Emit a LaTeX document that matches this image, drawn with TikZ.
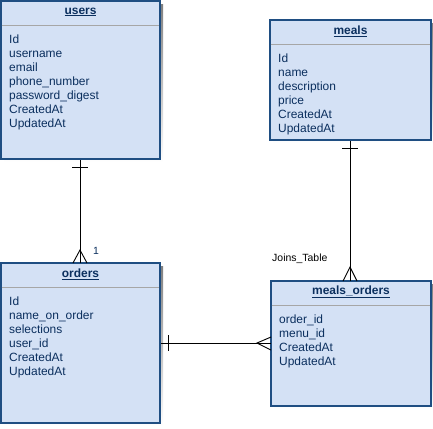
\documentclass[tikz,border=0pt]{standalone}
\usepackage{fontspec}
\setmainfont{Liberation Sans}
\definecolor{entfill}{HTML}{D4E1F5}
\definecolor{entline}{HTML}{1F4E82}
\definecolor{enttext}{HTML}{0B2F5E}
\definecolor{shade}{HTML}{BFBFBF}
\begin{document}
\begin{tikzpicture}[x=1bp,y=-1bp,
  entity/.style={draw=entline,fill=entfill,line width=1.2bp},
  sepline/.style={draw=gray!70,line width=0.8bp},
  title/.style={font=\fontsize{12}{14}\selectfont\bfseries,text=enttext,inner sep=0pt},
  fields/.style={font=\fontsize{12}{14}\selectfont,text=enttext,align=left,anchor=north west,inner sep=0pt},
  rel/.style={draw=black,line width=0.9bp},
  lbl/.style={font=\fontsize{10.5}{12}\selectfont,inner sep=0pt}]
\useasboundingbox (0,0) rectangle (433,428);

% entity tables: shadow, body, header separator, title and fields
\newcommand{\enttable}[7]{%
  \fill[shade] (#2+3,#3+3) rectangle (#4+3,#5+3);
  \path[entity] (#2,#3) rectangle (#4,#5);
  \draw[sepline] (#2+0.6,#3+24) -- (#4-0.6,#3+24);
  \coordinate (#1-nw) at (#2,#3);
  \coordinate (#1-se) at (#4,#5);
  \node[title] (#1-title) at ({(#2+#4)/2},#3+11) {\underline{#6}};
  \node[fields] (#1-fields) at (#2+8,#3+34) {#7};
}

\enttable{users}{1}{1}{160}{159}{users}{Id\\username\\email\\phone\_number\\password\_digest\\CreatedAt\\UpdatedAt}
\enttable{meals}{270}{20}{431}{140}{meals}{Id\\name\\description\\price\\CreatedAt\\UpdatedAt}
\enttable{orders}{1}{263}{160}{423}{orders}{Id\\name\_on\_order\\selections\\user\_id\\CreatedAt\\UpdatedAt}
\enttable{mo}{271}{281}{431}{406}{meals\_orders}{order\_id\\menu\_id\\CreatedAt\\UpdatedAt}

% connector end points
\coordinate (uo-a) at (80,160);
\coordinate (uo-b) at (80,263);
\coordinate (mm-a) at (350,141);
\coordinate (mm-b) at (350,281);
\coordinate (om-a) at (161,343);
\coordinate (om-b) at (271,343);

% users 1 -- * orders
\draw[rel] (uo-a) -- (uo-b);
\draw[rel] (72,167) -- (88,167);
\draw[rel] (73,263) -- (80,250) -- (87,263);
\node[lbl,text=enttext,anchor=west] (one) at (93,251) {1};

% meals 1 -- * meals_orders
\draw[rel] (mm-a) -- (mm-b);
\draw[rel] (342,148) -- (358,148);
\draw[rel] (343,281) -- (350,267) -- (357,281);
\node[lbl,anchor=west] (jt) at (272,259) {Joins\_Table};

% orders 1 -- * meals_orders
\draw[rel] (om-a) -- (om-b);
\draw[rel] (168,335) -- (168,351);
\draw[rel] (271,337) -- (257,343) -- (271,350);
\end{tikzpicture}
\end{document}
